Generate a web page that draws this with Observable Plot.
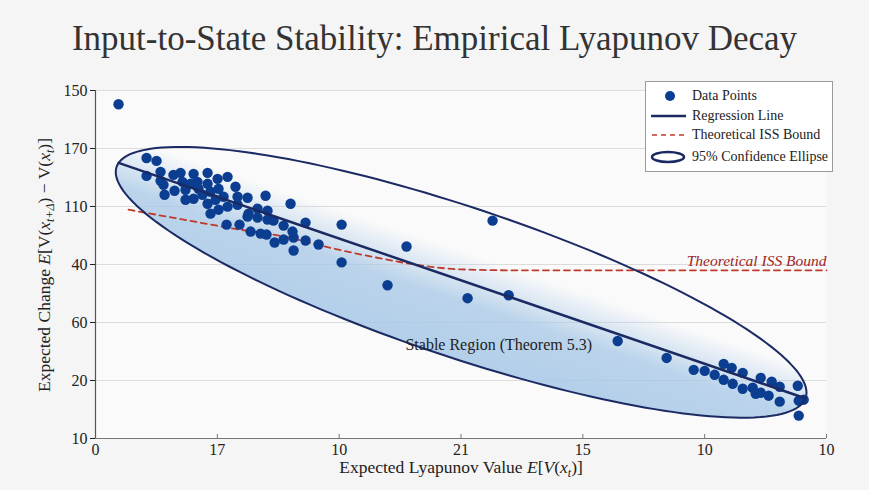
<!DOCTYPE html>
<html>
<head>
<meta charset="utf-8">
<script src="https://cdn.jsdelivr.net/npm/d3@7"></script>
<script src="https://cdn.jsdelivr.net/npm/@observablehq/plot@0.6"></script>
<style>
  html, body { margin: 0; padding: 0; background: #f5f5f5; }
  #wrap { position: relative; width: 869px; height: 490px; overflow: hidden; font-family: "Liberation Serif", serif; color: #222; }
  #title { position: absolute; left: 0; top: 21px; width: 869px; margin: 0; text-align: center; font-weight: normal;
           font-size: 35px; line-height: 35px; color: #333; font-family: "Liberation Serif", serif; }
  #chart { position: absolute; left: 0; top: 75px; }
  #legend { position: absolute; left: 645px; top: 81px; width: 188px; height: 91px; border: 1px solid #9a9a9a;
            background: #ffffff; box-sizing: border-box; font-size: 14px; }
  .row { position: absolute; left: 0; height: 18px; display: flex; align-items: center; white-space: nowrap; }
  .row svg { display: block; }
  .row span { position: absolute; left: 46px; }
</style>
</head>
<body>
<div id="wrap">
  <h1 id="title">Input-to-State Stability: Empirical Lyapunov Decay</h1>
  <div id="chart"></div>
  <div id="legend">
    <div class="row" style="top:5px"><svg width="40" height="18"><circle cx="24" cy="9" r="5" fill="#0b3d91"/></svg><span>Data Points</span></div>
    <div class="row" style="top:25px"><svg width="42" height="18"><line x1="5" x2="40" y1="9" y2="9" stroke="#1b2a63" stroke-width="2.5"/></svg><span>Regression Line</span></div>
    <div class="row" style="top:44px"><svg width="42" height="18"><line x1="6" x2="41" y1="9" y2="9" stroke="#c0392b" stroke-width="1.6" stroke-dasharray="5,4"/></svg><span>Theoretical ISS Bound</span></div>
    <div class="row" style="top:66px"><svg width="42" height="18"><ellipse cx="22" cy="9" rx="16" ry="5" fill="none" stroke="#1b2a63" stroke-width="2.5"/></svg><span>95% Confidence Ellipse</span></div>
  </div>
</div>
<script>
// ---- Data (data units; tick labels are the printed labels at evenly spaced ticks) ----
const xTicks = [0, 10, 20, 30, 40, 50, 60];
const xTickLabels = ["0", "17", "10", "21", "15", "10", "10"];
const yTicks = [0, 10, 20, 30, 40, 50, 60];
const yTickLabels = ["10", "20", "60", "40", "110", "170", "150"];

const pointX = [1.89, 4.19, 5.01, 4.19, 5.34, 5.34, 5.58, 5.67, 6.40, 6.98,
  6.49, 7.14, 7.39, 8.05, 7.80, 8.37, 9.20, 8.46, 9.20, 10.02,
  10.84, 7.39, 8.05, 8.78, 9.44, 10.10, 11.49, 9.20, 9.85, 10.51,
  11.66, 12.48, 9.44, 10.10, 10.84, 11.66, 12.56, 13.30, 13.96, 16.01,
  14.12, 12.48, 13.30, 14.12, 10.76, 11.82, 12.73, 13.55, 14.04, 14.61,
  15.44, 16.17, 17.24, 14.70, 15.44, 16.26, 17.24, 16.26, 18.31, 20.20,
  20.20, 23.97, 25.53, 32.59, 30.54, 33.91, 42.86, 46.88, 49.10, 50.00,
  50.82, 51.56, 52.22, 53.12, 51.56, 52.30, 53.12, 53.94, 54.60, 55.50,
  56.16, 54.19, 54.60, 55.25, 56.16, 57.64, 57.72, 58.13, 57.72];
const pointY = [57.63, 48.37, 47.86, 45.28, 45.97, 44.43, 43.74, 42.02, 45.45, 45.80,
  42.71, 44.25, 42.88, 45.63, 43.91, 44.25, 45.80, 43.05, 43.91, 44.77,
  45.11, 41.17, 41.34, 42.02, 42.54, 43.05, 43.40, 40.48, 41.17, 41.68,
  41.68, 41.51, 38.77, 39.45, 39.97, 40.31, 38.77, 39.62, 41.85, 40.48,
  39.28, 38.25, 38.08, 37.74, 36.88, 36.88, 35.68, 35.33, 35.16, 37.56,
  36.71, 35.68, 37.22, 33.79, 34.31, 34.65, 34.13, 32.42, 33.45, 36.88,
  30.36, 26.42, 33.10, 37.56, 24.19, 24.70, 16.81, 13.89, 11.84, 11.66,
  10.98, 12.86, 12.18, 11.32, 10.12, 9.43, 8.58, 8.75, 10.46, 9.78,
  8.92, 7.72, 7.89, 7.38, 6.35, 9.09, 6.52, 6.69, 3.95];

const regressionX = [1.89, 58.13];
const regressionY = [47.51, 7.03];

const issX = [2.71, 7.22, 11.33, 15.44, 19.54, 23.40, 26.68, 29.97, 34.89, 60];
const issY = [39.45, 37.74, 36.19, 34.82, 32.76, 31.05, 29.85, 29.16, 28.99, 28.99];

// 95% confidence ellipse: centre, semi-major and semi-minor half-vectors (data units)
const ellipseCenter = [30.01, 26.93];
const ellipseMajor = [28.28, -19.90];
const ellipseMinor = [-1.96, -12.20];

const annotations = [
  {x: 33.1, y: 16.1, text: "Stable Region (Theorem 5.3)"}
];
const issLabel = [{x: 60, y: 30.6, text: "Theoretical ISS Bound"}];

// ---- Build tables ----
const points = pointX.map((x, i) => ({x, y: pointY[i]}));
const regression = regressionX.map((x, i) => ({x, y: regressionY[i]}));
const iss = issX.map((x, i) => ({x, y: issY[i]}));
const ellipse = d3.range(0, 361, 2).map(deg => {
  const t = deg * Math.PI / 180;
  return {
    x: ellipseCenter[0] + Math.cos(t) * ellipseMajor[0] + Math.sin(t) * ellipseMinor[0],
    y: ellipseCenter[1] + Math.cos(t) * ellipseMajor[1] + Math.sin(t) * ellipseMinor[1]
  };
});

const W = 869, H = 415, ML = 95, MR = 43, MT = 15, MB = 52;
const navy = "#1b2a63";

const plot = Plot.plot({
  width: W, height: H,
  marginLeft: ML, marginRight: MR, marginTop: MT, marginBottom: MB,
  style: {fontFamily: "Liberation Serif, serif", fontSize: "16px", background: "transparent", color: "#222"},
  x: {domain: [0, 60]},
  y: {domain: [0, 60]},
  marks: [
    Plot.frame({fill: "#fafafa", stroke: "none"}),
    Plot.gridY(yTicks, {stroke: "#dcdcdc", strokeOpacity: 1, strokeWidth: 1}),
    Plot.line(ellipse, {x: "x", y: "y", fill: "url(#stableGrad)", stroke: "none", curve: "linear"}),
    Plot.line(iss, {x: "x", y: "y", stroke: "#c0392b", strokeWidth: 1.8, strokeDasharray: "6,4.5", curve: "monotone-x"}),
    Plot.dot(points, {x: "x", y: "y", r: 5.2, fill: "#0b3d91", stroke: "none"}),
    Plot.line(ellipse, {x: "x", y: "y", stroke: navy, strokeWidth: 2, curve: "linear"}),
    Plot.line(regression, {x: "x", y: "y", stroke: navy, strokeWidth: 2.5}),
    Plot.text(annotations, {x: "x", y: "y", text: "text", fontSize: 16, fill: "#222", textAnchor: "middle"}),
    Plot.text(issLabel, {x: "x", y: "y", text: "text", fontSize: 15.5, fill: "#9e2527", fontStyle: "italic", textAnchor: "end"}),
    Plot.ruleY([0], {stroke: "#777", strokeWidth: 1.2}),
    Plot.ruleX([0], {stroke: "#555", strokeWidth: 1.2}),
    Plot.ruleX(xTicks.slice(1), {x: d => d, y1: 0, y2: 0.7, stroke: "#777", strokeWidth: 1}),
    Plot.axisX({ticks: xTicks, tickFormat: d => xTickLabels[Math.round(d / 10)], tickSize: 0, tickPadding: 5, fontSize: 16, label: null}),
    Plot.axisY({ticks: yTicks, tickFormat: d => yTickLabels[Math.round(d / 10)], tickSize: 5, tickPadding: 3, fontSize: 16, label: null})
  ]
});

document.getElementById("chart").appendChild(plot);

// scale helpers
const sx = plot.scale("x"), sy = plot.scale("y");
const px = v => (sx && sx.apply) ? sx.apply(v) : ML + v / 60 * (W - ML - MR);
const py = v => (sy && sy.apply) ? sy.apply(v) : MT + (60 - v) / 60 * (H - MT - MB);

// gradient across the ellipse's minor axis (upper side transparent, lower side blue)
const svg = d3.select(plot);
const defs = svg.insert("defs", ":first-child");
const g = defs.append("linearGradient")
  .attr("id", "stableGrad")
  .attr("gradientUnits", "userSpaceOnUse")
  .attr("x1", px(ellipseCenter[0] - ellipseMinor[0]))
  .attr("y1", py(ellipseCenter[1] - ellipseMinor[1]))
  .attr("x2", px(ellipseCenter[0] + ellipseMinor[0]))
  .attr("y2", py(ellipseCenter[1] + ellipseMinor[1]));
[[0, 0], [0.3, 0], [0.5, 0.45], [0.62, 0.75], [1, 0.85]].forEach(([o, op]) =>
  g.append("stop").attr("offset", o).attr("stop-color", "#a6c7e6").attr("stop-opacity", op));

// axis labels with italic symbols and subscripts
const xl = svg.append("text")
  .attr("x", 461).attr("y", 398)
  .attr("text-anchor", "middle")
  .attr("font-size", 17.5).attr("fill", "#222")
  .attr("font-family", "Liberation Serif, serif");
xl.append("tspan").text("Expected Lyapunov Value ");
xl.append("tspan").attr("font-style", "italic").text("E");
xl.append("tspan").text("[");
xl.append("tspan").attr("font-style", "italic").text("V");
xl.append("tspan").text("(");
xl.append("tspan").attr("font-style", "italic").text("x");
xl.append("tspan").attr("font-style", "italic").attr("font-size", 12).attr("dy", 4).text("t");
xl.append("tspan").attr("dy", -4).text(")]");

const yl = svg.append("text")
  .attr("transform", "translate(50,190) rotate(-90)")
  .attr("text-anchor", "middle")
  .attr("font-size", 17.5).attr("fill", "#222")
  .attr("font-family", "Liberation Serif, serif");
yl.append("tspan").text("Expected Change ");
yl.append("tspan").attr("font-style", "italic").text("E");
yl.append("tspan").text("[V(");
yl.append("tspan").attr("font-style", "italic").text("x");
yl.append("tspan").attr("font-style", "italic").attr("font-size", 12).attr("dy", 4).text("t+Δ");
yl.append("tspan").attr("dy", -4).text(") − V(");
yl.append("tspan").attr("font-style", "italic").text("x");
yl.append("tspan").attr("font-style", "italic").attr("font-size", 12).attr("dy", 4).text("t");
yl.append("tspan").attr("dy", -4).text(")]");
</script>
</body>
</html>
